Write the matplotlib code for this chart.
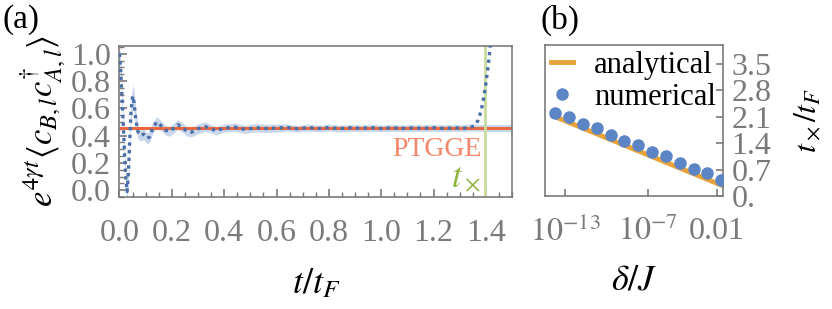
import numpy as np
import matplotlib
matplotlib.use("Agg")
import matplotlib.pyplot as plt
from matplotlib.ticker import FixedLocator, MultipleLocator

plt.rcParams['font.family'] = ['Liberation Serif', 'DejaVu Serif']
plt.rcParams['mathtext.fontset'] = 'stix'

# ---- panel (a) data ----
t_num = [0.000, 0.005, 0.010, 0.015, 0.020, 0.025, 0.029, 0.034, 0.039, 0.044,
         0.050, 0.056, 0.062, 0.070, 0.080, 0.092, 0.105, 0.115, 0.128, 0.143,
         0.160, 0.175, 0.190, 0.205, 0.222, 0.240, 0.258, 0.275, 0.300, 0.328,
         0.350, 0.370, 0.400, 0.440, 0.480, 0.520, 0.560, 0.600,
         0.640, 0.680, 0.720, 0.760, 0.800, 0.840, 0.880, 0.920, 0.960, 1.000,
         1.040, 1.080, 1.120, 1.160, 1.200, 1.240, 1.280, 1.320, 1.340,
         1.355, 1.370, 1.382, 1.392, 1.400, 1.407, 1.413, 1.418]
corr_num = [1.00, 0.86, 0.66, 0.45, 0.24, 0.07, -0.01, 0.12, 0.36, 0.58,
            0.69, 0.64, 0.52, 0.43, 0.40, 0.41, 0.38, 0.39, 0.46, 0.50,
            0.47, 0.44, 0.43, 0.45, 0.48, 0.46, 0.43, 0.425, 0.45, 0.465,
            0.45, 0.435, 0.455, 0.462, 0.445, 0.458, 0.452, 0.455,
            0.460, 0.450, 0.458, 0.452, 0.459, 0.451, 0.457, 0.453, 0.458, 0.452,
            0.457, 0.453, 0.456, 0.454, 0.457, 0.453, 0.456, 0.455, 0.460,
            0.47, 0.51, 0.58, 0.68, 0.78, 0.88, 0.98, 1.08]
# half width of the shaded band (first 57 points, up to t=1.34)
band_hw = ([0.07] * 6 + [0.06, 0.06, 0.07, 0.08] +
           [0.08, 0.08, 0.07, 0.05, 0.04, 0.04, 0.04, 0.04, 0.04, 0.04] +
           [0.035] * 10 + [0.03] * 8 + [0.025] * 19)
ptgge = 0.455
t_cross = 1.395

# ---- panel (b) data ----
delta = [2e-14, 2e-13, 2e-12, 2e-11, 2e-10, 2e-9, 2e-8, 2e-7, 2e-6, 2e-5, 2e-4, 2e-3, 2e-2]
tx_num = [2.19, 2.08, 1.90, 1.80, 1.62, 1.46, 1.34, 1.17, 1.06, 0.88, 0.72, 0.60, 0.42]
delta_an = [1.4e-14, 2.7e-2]
tx_an = [2.12, 0.27]

gray = '#7a7a7a'
fs = 23

fig = plt.figure(figsize=(8.32, 3.09), dpi=100)
axa = fig.add_axes([119.5 / 832, 1 - 197 / 309, 392.5 / 832, 151.5 / 309])
axb = fig.add_axes([545 / 832, 1 - 196 / 309, 178 / 832, 151 / 309])

for ax in (axa, axb):
    for s in ax.spines.values():
        s.set_color(gray)
        s.set_linewidth(1.2)

# (a)
t_num = np.array(t_num)
corr_num = np.array(corr_num)
nb = len(band_hw)
bt = np.r_[t_num[:nb], 1.40, 1.50]
bm = np.r_[corr_num[:nb], ptgge, ptgge]
bh = np.r_[band_hw, 0.025, 0.025]
axa.fill_between(bt, bm - bh, bm + bh, color='#c9d7ec', lw=0, zorder=1)
axa.axhline(ptgge, color='#e9683f', lw=2.2, zorder=2)
axa.axvline(t_cross, color='#c8dc9c', lw=2, zorder=2)
axa.plot(t_num, corr_num, color='#4a6fa8', lw=2.4, ls=(0, (1, 1.3)), zorder=3)
axa.text(1.385, 0.30, 'PTGGE', color='#f4876a', fontsize=fs - 3, ha='right', va='center')
axa.text(1.38, 0.08, r'$t_\times$', color='#8db33a', fontsize=fs + 2, ha='right', va='center')

axa.set_xlim(0, 1.5)
axa.set_ylim(-0.05, 1.06)
axa.xaxis.set_major_locator(MultipleLocator(0.2))
axa.xaxis.set_minor_locator(MultipleLocator(0.05))
axa.yaxis.set_major_locator(MultipleLocator(0.2))
axa.yaxis.set_minor_locator(MultipleLocator(0.05))
axa.xaxis.set_major_formatter(matplotlib.ticker.FormatStrFormatter('%.1f'))
axa.yaxis.set_major_formatter(matplotlib.ticker.FormatStrFormatter('%.1f'))
axa.tick_params(which='both', direction='in', color=gray, labelcolor=gray,
                labelsize=fs, top=False, right=False)
axa.tick_params(which='major', length=6, width=1.2)
axa.tick_params(axis='x', which='major', pad=16)
axa.tick_params(axis='y', which='major', pad=6)
axa.tick_params(which='minor', length=3.5, width=1)
axa.set_xlabel(r'$t/t_F$', fontsize=fs + 3, labelpad=14)
axa.set_ylabel(r'$e^{4\gamma t}\langle c_{B,l}c^{\dagger}_{A,l}\rangle$', fontsize=fs + 2, labelpad=2)

# (b)
axb.plot(delta_an, tx_an, color='#e8a23a', lw=3.5, label='analytical', zorder=2)
axb.plot(delta, tx_num, 'o', color='#5b85c4', ms=8, label='numerical', zorder=3)
axb.set_xscale('log')
axb.set_xlim(10 ** -14.45, 10 ** -1.57)
axb.set_ylim(0, 4.0)
axb.xaxis.set_major_locator(FixedLocator([1e-13, 1e-7, 1e-2]))
axb.xaxis.set_minor_locator(FixedLocator([]))
axb.set_xticklabels([r'$10^{-13}$', r'$10^{-7}$', '0.01'])
axb.yaxis.set_major_locator(FixedLocator([0, 0.7, 1.4, 2.1, 2.8, 3.5]))
axb.set_yticklabels(['0.', '0.7', '1.4', '2.1', '2.8', '3.5'])
axb.yaxis.tick_right()
axb.yaxis.set_label_position('right')
axb.tick_params(which='both', direction='in', color=gray, labelcolor=gray,
                labelsize=fs, length=5, width=1.2, pad=6)
axb.tick_params(axis='x', pad=15)
axb.set_xlabel(r'$\delta/J$', fontsize=fs + 3, labelpad=12)
axb.set_ylabel(r'$t_\times/t_F$', fontsize=fs, labelpad=15)
axb.legend(loc='upper left', frameon=False, fontsize=fs - 1, handlelength=0.7,
           handletextpad=0.7, borderaxespad=0.1, borderpad=0.1, labelspacing=0.1)

fig.text(3 / 832, 1 - 20 / 309, '(a)', fontsize=fs + 1, va='center', ha='left')
fig.text(541 / 832, 1 - 20 / 309, '(b)', fontsize=fs + 1, va='center', ha='left')

fig.savefig('out.png', dpi=100)
